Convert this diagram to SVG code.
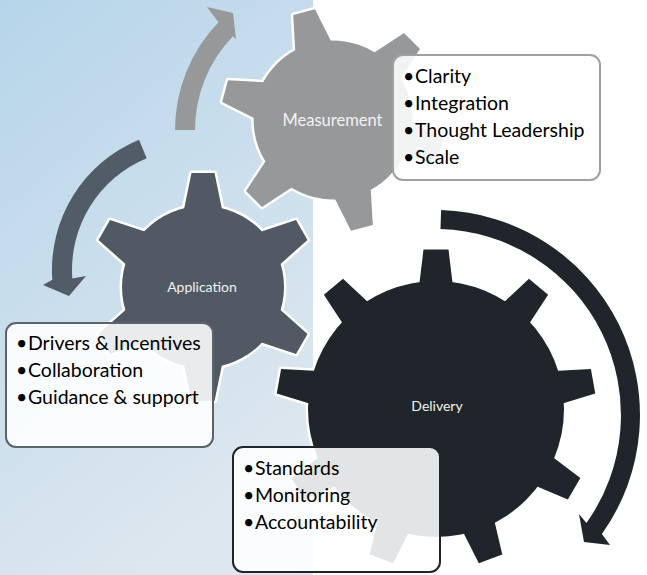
<svg xmlns="http://www.w3.org/2000/svg" xmlns:xlink="http://www.w3.org/1999/xlink" width="647" height="575" viewBox="0 0 647 575">
<style>
.lbl{font-family:Lato,"Liberation Sans",sans-serif;fill:#F2F2F2;text-anchor:middle}
.item{font-family:Lato,"Liberation Sans",sans-serif;font-size:19.5px;fill:#000}
.box{fill:#fff;fill-opacity:0.88;stroke-width:2}
.outline{fill:#fff;stroke:#fff;stroke-width:5;stroke-linejoin:round}
</style>
<defs>
<linearGradient id="bg" x1="0" y1="0" x2="0.45" y2="1">
<stop offset="0" stop-color="#B6D5EA"/>
<stop offset="1" stop-color="#DDE7EF"/>
</linearGradient>
<polygon id="toothS" points="-11.5,-114 11.5,-114 21,-68 -21,-68"/>
<polygon id="toothL" points="-12.5,-159.5 12.5,-159.5 17.5,-118 -17.5,-118"/>
<g id="g6">
<circle r="81"/>
<use xlink:href="#toothS"/>
<use xlink:href="#toothS" transform="rotate(60)"/>
<use xlink:href="#toothS" transform="rotate(120)"/>
<use xlink:href="#toothS" transform="rotate(180)"/>
<use xlink:href="#toothS" transform="rotate(240)"/>
<use xlink:href="#toothS" transform="rotate(300)"/>
</g>
<g id="g9">
<circle r="128"/>
<use xlink:href="#toothL"/>
<use xlink:href="#toothL" transform="rotate(40)"/>
<use xlink:href="#toothL" transform="rotate(80)"/>
<use xlink:href="#toothL" transform="rotate(120)"/>
<use xlink:href="#toothL" transform="rotate(160)"/>
<use xlink:href="#toothL" transform="rotate(200)"/>
<use xlink:href="#toothL" transform="rotate(240)"/>
<use xlink:href="#toothL" transform="rotate(280)"/>
<use xlink:href="#toothL" transform="rotate(320)"/>
</g>
</defs>
<rect width="647" height="575" fill="#fff"/>
<rect width="313" height="575" fill="url(#bg)"/>

<g id="connectors">
<path d="M175,130 A155,155 0 0 1 218.5,22.3 L207,7 L233,13 L236,39 L232.9,36.2 A135,135 0 0 0 195,130 Z" fill="#97989A"/>
<path d="M139,139.7 A141,141 0 0 0 52.3,279.8 L43,285 L69,296 L86,276 L72.3,278.4 A121,121 0 0 1 146.7,158.2 Z" fill="#525C66"/>
<path d="M441.1,210.1 A205,205 0 0 1 601.9,534 L610,545 L584,542 L579,514 L586.4,523 A186,186 0 0 0 440.5,229.1 Z" fill="#1F252B"/>
</g>

<g id="gear-application">
<use xlink:href="#g6" class="outline" transform="translate(203,287)"/>
<use xlink:href="#g6" fill="#515A64" transform="translate(203,287)"/>
<text class="lbl" x="202" y="292" font-size="14">Application</text>
</g>

<g id="gear-measurement">
<use xlink:href="#g6" class="outline" transform="translate(333,120) rotate(-15) scale(0.98)"/>
<use xlink:href="#g6" fill="#97989A" transform="translate(333,120) rotate(-15) scale(0.98)"/>
<text class="lbl" x="332.5" y="126" font-size="16.5">Measurement</text>
</g>

<g id="gear-delivery">
<use xlink:href="#g9" class="outline" transform="translate(436,409)"/>
<use xlink:href="#g9" fill="#1F252B" transform="translate(436,409)"/>
<text class="lbl" x="437" y="411" font-size="14">Delivery</text>
</g>

<g id="box-measurement">
<rect class="box" x="393" y="55" width="207" height="125" rx="10" stroke="#A0A0A0"/>
<text class="item" y="83"><tspan x="403">•</tspan><tspan x="415">Clarity</tspan></text>
<text class="item" y="110"><tspan x="403">•</tspan><tspan x="415">Integration</tspan></text>
<text class="item" y="137"><tspan x="403">•</tspan><tspan x="415">Thought Leadership</tspan></text>
<text class="item" y="164"><tspan x="403">•</tspan><tspan x="415">Scale</tspan></text>
</g>

<g id="box-application">
<rect class="box" x="6" y="323" width="207" height="124" rx="10" stroke="#5B636C"/>
<text class="item" y="350"><tspan x="16">•</tspan><tspan x="28">Drivers &amp; Incentives</tspan></text>
<text class="item" y="377"><tspan x="16">•</tspan><tspan x="28">Collaboration</tspan></text>
<text class="item" y="404"><tspan x="16">•</tspan><tspan x="28">Guidance &amp; support</tspan></text>
</g>

<g id="box-delivery">
<rect class="box" x="233" y="447" width="207" height="125" rx="10" stroke="#1F252B"/>
<text class="item" y="475"><tspan x="243">•</tspan><tspan x="255">Standards</tspan></text>
<text class="item" y="502"><tspan x="243">•</tspan><tspan x="255">Monitoring</tspan></text>
<text class="item" y="529"><tspan x="243">•</tspan><tspan x="255">Accountability</tspan></text>
</g>
</svg>
